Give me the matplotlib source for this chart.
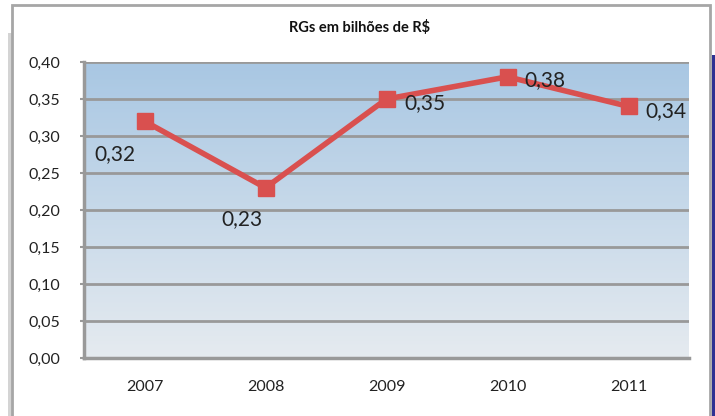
import numpy as np
import matplotlib.pyplot as plt
from matplotlib.patches import Rectangle

# --- data ---
years = ['2007', '2008', '2009', '2010', '2011']
values = [0.32, 0.23, 0.35, 0.38, 0.34]
value_labels = ['0,32', '0,23', '0,35', '0,38', '0,34']
# label offsets (points): below-left for first two, right for the rest
label_offsets = [(-36, -28), (-32, -27), (13, -7), (12, -7), (12, -8)]
yticks = np.arange(0, 0.401, 0.05)

plt.rcParams['font.family'] = ['Lato', 'DejaVu Sans']

W, H = 715, 416
fig = plt.figure(figsize=(W / 100, H / 100), dpi=100, facecolor='white')

# outer chart frame, shadow and dark strip at the right
fig.patches.append(Rectangle((8 / W, 0), 4 / W, (H - 33) / H, transform=fig.transFigure,
                             facecolor='#d4d4d4', edgecolor='none', zorder=0))
fig.patches.append(Rectangle((12 / W, -0.02), (710 - 12) / W, (H - 5) / H + 0.02,
                             transform=fig.transFigure, facecolor='white',
                             edgecolor='#a6a6a6', linewidth=2, zorder=1))
fig.patches.append(Rectangle((712 / W, 0), 4 / W, (H - 55) / H, transform=fig.transFigure,
                             facecolor='#2e3192', edgecolor='none', zorder=1))

ax = fig.add_axes([84 / W, (H - 358) / H, 605 / W, 296 / H])
ax.set_zorder(2)
ax.patch.set_alpha(0)

# vertical gradient background
grad = np.linspace(0, 1, 256).reshape(-1, 1)
top = np.array([0.66, 0.78, 0.89])
bot = np.array([0.90, 0.92, 0.94])
img = (bot + (top - bot) * grad).reshape(256, 1, 3)
ax.imshow(img, extent=(-0.5, 4.5, 0, 0.40), origin='lower', aspect='auto', zorder=0)

ax.set_xlim(-0.5, 4.5)
ax.set_ylim(0, 0.40)
ax.set_yticks(yticks)
ax.set_yticklabels([f'{v:.2f}'.replace('.', ',') for v in yticks], fontsize=11.5, color='#222222')
ax.set_xticks(range(len(years)))
ax.set_xticklabels(years, fontsize=11.5, color='#222222')
ax.tick_params(axis='x', length=0, pad=16)
ax.tick_params(axis='y', length=3, color='#999999', width=1.5, pad=14)

for v in yticks:
    ax.axhline(v, color='#999999', linewidth=2, zorder=1)

for side in ['top', 'right']:
    ax.spines[side].set_visible(False)
for side in ['left', 'bottom']:
    ax.spines[side].set_color('#999999')
    ax.spines[side].set_linewidth(2.5)

x = np.arange(len(years))
ax.plot(x, values, color='#d9504f', linewidth=4, marker='s', markersize=12,
        markerfacecolor='#d9504f', markeredgecolor='#d9504f', zorder=3, clip_on=False)

for xi, v, lab, off in zip(x, values, value_labels, label_offsets):
    ax.annotate(lab, (xi, v), xytext=off, textcoords='offset points',
                fontsize=15, color='#222222', zorder=4, annotation_clip=False)

fig.text(360 / W, (H - 28) / H, 'RGs em bilhões de R$', ha='center', va='center',
         fontsize=10.5, fontweight='bold', color='#111111')

fig.savefig('out.png', dpi=100)
